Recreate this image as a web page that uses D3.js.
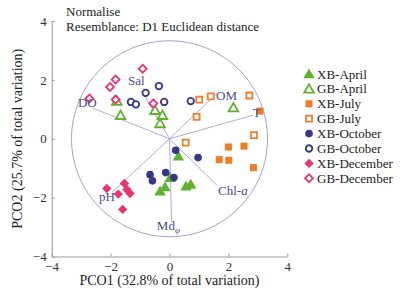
<!DOCTYPE html>
<html lang="en">
<head>
  <meta charset="UTF-8">
  <title>PCO biplot</title>
  <style>
    body { margin: 0; background: #fff; }
    svg { display: block; }
    svg text { font-family: "Liberation Serif", "Times New Roman", serif; }
    .axis path, .axis line { stroke: #999; fill: none; }
    .axis text { font-size: 13px; fill: #333; }
  </style>
  <script src="https://d3js.org/d3.v7.min.js"></script>
</head>
<body>
<svg id="chart"></svg>
<script>
  // groups (legend order)
  const groups = ["XB-April", "GB-April", "XB-July", "GB-July", "XB-October", "GB-October", "XB-December", "GB-December"];

  // point scores [PCO1, PCO2]
  const xbApril = [[0.30, -0.59], [0.02, -1.32], [-0.15, -1.64], [-0.32, -1.78], [0.56, -1.61], [0.72, -1.55]];
  const gbApril = [[-1.79, 1.28], [-1.66, 0.80], [-0.49, 0.97], [-0.24, 0.80], [-0.32, 0.52], [2.17, 1.06]];
  const xbJuly = [[3.07, 0.94], [2.00, -0.28], [2.53, -0.25], [1.69, -0.71], [2.01, -0.73], [2.85, -0.98]];
  const gbJuly = [[1.01, 1.33], [1.40, 1.44], [2.71, 1.47], [0.92, 0.74], [2.87, 0.12], [0.55, -0.13]];
  const xbOctober = [[0.21, -0.39], [0.97, -0.64], [-0.66, -1.22], [-0.58, -1.43], [-0.13, -1.15], [0.15, -1.32]];
  const gbOctober = [[-0.81, 1.56], [-0.36, 1.79], [-1.31, 1.25], [-1.14, 1.17], [-0.18, 1.25], [0.72, 1.28]];
  const xbDecember = [[-2.13, -1.69], [-1.74, -1.88], [-1.53, -1.52], [-1.45, -1.72], [-1.34, -1.86], [-1.59, -2.40]];
  const gbDecember = [[-0.91, 2.38], [-1.83, 2.01], [-2.02, 1.76], [-2.72, 1.37], [-1.83, 1.33], [-0.55, 1.20]];

  // environmental vectors: name, end point, label anchor
  const vectorNames = ["DO", "Sal", "OM", "T", "Chl-a", "pH", "Md"];
  const vectorEnds = [[-2.60, 1.04], [-0.94, 1.62], [1.61, 1.54], [2.84, 0.80], [1.61, -1.58], [-1.95, -1.82], [0.07, -2.84]];
  const vectorLabelAt = [[-3.11, 1.07], [-1.41, 1.82], [1.58, 1.31], [2.83, 0.73], [1.65, -1.92], [-2.39, -2.12], [-0.43, -3.11]];
  const circleRadius = 3.33;

  const ticks = [-4, -2, 0, 2, 4];

  const W = 403, H = 294;
  const serif = "Liberation Serif, Times New Roman, serif";
  const x = d3.scaleLinear().domain([-4, 4]).range([51.7, 287.3]);
  const y = d3.scaleLinear().domain([-4, 4]).range([256.5, 21]);

  const svg = d3.select("#chart").attr("width", W).attr("height", H);

  const colors = { April: "#62b030", July: "#f07d2a", October: "#363787", December: "#e8346f" };
  const shapes = { April: d3.symbolTriangle, July: d3.symbolSquare, October: d3.symbolCircle, December: d3.symbolSquare };
  const sizes = { April: 56, July: 50, October: 46, December: 44 };

  const seriesData = [xbApril, gbApril, xbJuly, gbJuly, xbOctober, gbOctober, xbDecember, gbDecember];
  const series = groups.map((g, i) => {
    const month = g.split("-")[1];
    return { name: g, month, filled: g.startsWith("XB"), points: seriesData[i] };
  });

  function markerTransform(month) {
    if (month === "April") return " translate(0,1)";
    if (month === "December") return " rotate(45)";
    return "";
  }

  // axes
  const fmt = d => d < 0 ? "\u2212" + Math.abs(d) : d;
  const gx = svg.append("g")
    .attr("class", "axis")
    .attr("transform", `translate(0,${y(-4)})`)
    .call(d3.axisBottom(x).tickValues(ticks).tickSizeInner(-3).tickSizeOuter(0).tickPadding(5).tickFormat(fmt));
  const gy = svg.append("g")
    .attr("class", "axis")
    .attr("transform", `translate(${x(-4)},0)`)
    .call(d3.axisLeft(y).tickValues(ticks).tickSizeInner(-3).tickSizeOuter(0).tickPadding(5).tickFormat(fmt));
  [gx, gy].forEach(g => g.attr("font-family", serif).attr("font-size", 13));

  // correlation circle
  svg.append("ellipse")
    .attr("cx", x(0)).attr("cy", y(0))
    .attr("rx", x(circleRadius) - x(0)).attr("ry", y(0) - y(circleRadius))
    .attr("fill", "none").attr("stroke", "#a3a3d2").attr("stroke-width", 1);

  // vectors
  svg.append("g").selectAll("line")
    .data(vectorEnds)
    .join("line")
    .attr("x1", x(0)).attr("y1", y(0))
    .attr("x2", d => x(d[0])).attr("y2", d => y(d[1]))
    .attr("stroke", "#a3a3d2").attr("stroke-width", 0.9);

  // points
  series.forEach(s => {
    const sym = d3.symbol().type(shapes[s.month]).size(s.filled ? sizes[s.month] : sizes[s.month] * 0.72);
    svg.append("g").selectAll("path")
      .data(s.points)
      .join("path")
      .attr("transform", d => `translate(${x(d[0])},${y(d[1])})` + markerTransform(s.month))
      .attr("d", sym)
      .attr("fill", s.filled ? colors[s.month] : "#fff")
      .attr("stroke", colors[s.month])
      .attr("stroke-width", s.filled ? 0 : 1.8);
  });

  // vector labels
  const vlab = svg.append("g").attr("fill", "#4b4b8e").attr("font-size", 13).attr("font-family", serif);
  vectorNames.forEach((n, i) => {
    const t = vlab.append("text")
      .attr("x", x(vectorLabelAt[i][0])).attr("y", y(vectorLabelAt[i][1]));
    if (n === "Chl-a") {
      t.append("tspan").text("Chl-");
      t.append("tspan").attr("font-style", "italic").text("a");
    } else if (n === "Md") {
      t.append("tspan").text("Md");
      t.append("tspan").attr("font-style", "italic").attr("font-size", 9).attr("dy", 3).text("\u03c6");
    } else {
      t.text(n);
    }
  });

  // header notes
  svg.append("text").attr("x", 66).attr("y", 16).attr("font-size", 13).attr("font-family", serif).attr("fill", "#222").text("Normalise");
  svg.append("text").attr("x", 66).attr("y", 30.5).attr("font-size", 13).attr("font-family", serif).attr("fill", "#222").text("Resemblance: D1 Euclidean distance");

  // axis titles
  svg.append("text")
    .attr("x", x(0)).attr("y", 285)
    .attr("text-anchor", "middle").attr("font-size", 14).attr("font-family", serif).attr("fill", "#222")
    .text("PCO1 (32.8% of total variation)");
  svg.append("text")
    .attr("transform", `translate(22,${y(0)}) rotate(-90)`)
    .attr("text-anchor", "middle").attr("font-size", 14).attr("font-family", serif).attr("fill", "#222")
    .text("PCO2 (25.7% of total variation)");

  // legend
  const legend = svg.append("g").attr("transform", "translate(309,74)");
  series.forEach((s, i) => {
    const row = legend.append("g").attr("transform", `translate(0,${i * 14.9})`);
    const sym = d3.symbol().type(shapes[s.month]).size(s.filled ? sizes[s.month] : sizes[s.month] * 0.72);
    row.append("path")
      .attr("d", sym)
      .attr("transform", markerTransform(s.month) || null)
      .attr("fill", s.filled ? colors[s.month] : "#fff")
      .attr("stroke", colors[s.month])
      .attr("stroke-width", s.filled ? 0 : 1.8);
    row.append("text")
      .attr("x", 8).attr("y", 4.5)
      .attr("font-size", 13).attr("font-family", serif).attr("fill", "#222")
      .text(s.name);
  });
</script>
</body>
</html>
